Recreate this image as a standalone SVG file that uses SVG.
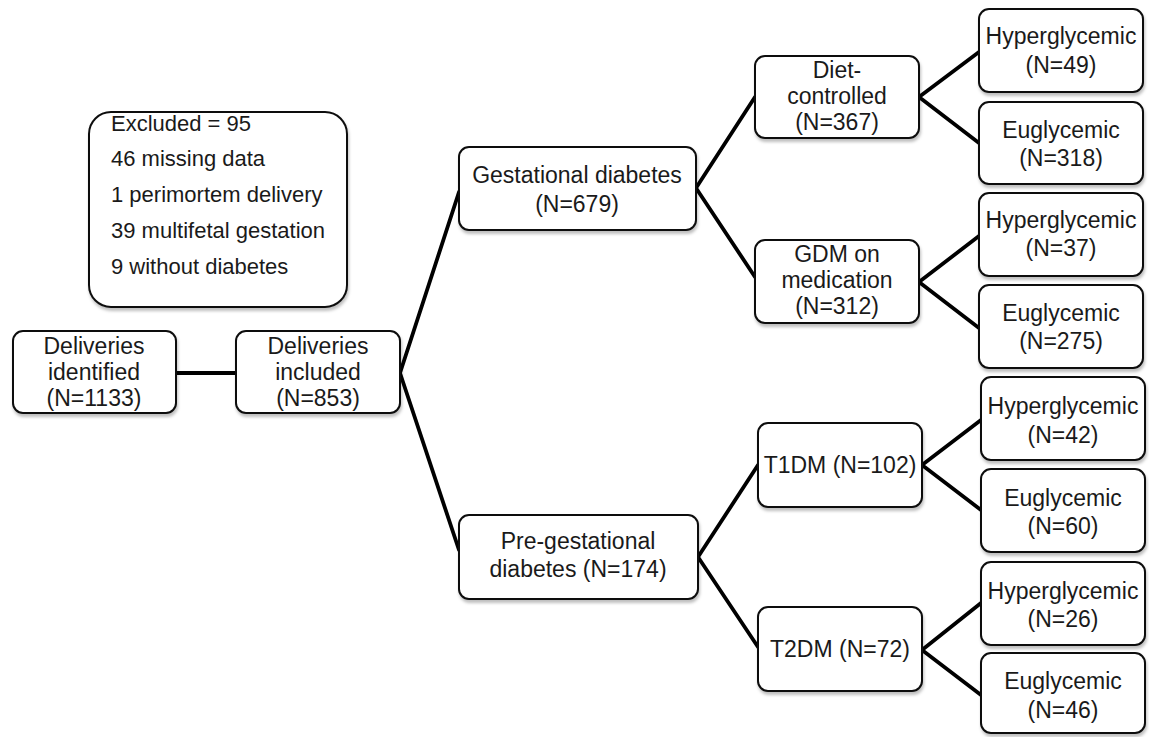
<svg xmlns="http://www.w3.org/2000/svg" width="1149" height="737" viewBox="0 0 1149 737">
<style>
.box{fill:#fff;stroke:#111;stroke-width:2;filter:url(#sh)}
.t{font-family:"Liberation Sans",Arial,sans-serif;font-size:23px;fill:#1a1a1a;text-anchor:middle}
.tl{font-family:"Liberation Sans",Arial,sans-serif;font-size:22px;fill:#1a1a1a}
.c{stroke:#000;stroke-width:3.8;fill:none;stroke-linecap:round;stroke-linejoin:round}
</style>
<defs>
<filter id="sh" x="-10%" y="-10%" width="120%" height="130%">
<feDropShadow dx="1" dy="3" stdDeviation="1.5" flood-color="#000" flood-opacity="0.25"/>
</filter>
</defs>
<rect width="1149" height="737" fill="#fff"/>
<g id="connectors">
<line class="c" x1="176" y1="373" x2="236" y2="373"/>
<polyline class="c" points="459,192 400,373 459,550"/>
<polyline class="c" points="755,97 696,188 755,277"/>
<polyline class="c" points="758,465 698,557 758,647"/>
<polyline class="c" points="979,52 919,97 979,143"/>
<polyline class="c" points="979,236 919,282 979,328"/>
<polyline class="c" points="981,420 922,465 981,510"/>
<polyline class="c" points="981,603 922,650 981,695"/>
</g>
<g id="excluded">
<rect class="box" x="89" y="112" width="258" height="195" rx="22"/>
<text class="tl" x="111" y="131">Excluded = 95</text>
<text class="tl" x="111" y="166">46 missing  data</text>
<text class="tl" x="111" y="202">1 perimortem delivery</text>
<text class="tl" x="111" y="238">39 multifetal gestation</text>
<text class="tl" x="111" y="274">9 without diabetes</text>
</g>
<g id="identified">
<rect class="box" x="13" y="331" width="163" height="82" rx="10"/>
<text class="t" x="94" y="354">Deliveries</text>
<text class="t" x="94" y="380">identified</text>
<text class="t" x="94" y="406">(N=1133)</text>
</g>
<g id="included">
<rect class="box" x="236" y="331" width="164" height="82" rx="10"/>
<text class="t" x="318" y="354">Deliveries</text>
<text class="t" x="318" y="380">included</text>
<text class="t" x="318" y="406">(N=853)</text>
</g>
<g id="gestational">
<rect class="box" x="459" y="147" width="237" height="83" rx="10"/>
<text class="t" x="577" y="183">Gestational diabetes</text>
<text class="t" x="577" y="212">(N=679)</text>
</g>
<g id="pregestational">
<rect class="box" x="459" y="515" width="239" height="84" rx="10"/>
<text class="t" x="578" y="549">Pre-gestational</text>
<text class="t" x="578" y="577">diabetes (N=174)</text>
</g>
<g id="diet">
<rect class="box" x="755" y="56" width="164" height="82" rx="10"/>
<text class="t" x="837" y="78">Diet-</text>
<text class="t" x="837" y="104">controlled</text>
<text class="t" x="837" y="130">(N=367)</text>
</g>
<g id="gdmmed">
<rect class="box" x="755" y="240" width="164" height="83" rx="10"/>
<text class="t" x="837" y="262">GDM on</text>
<text class="t" x="837" y="288">medication</text>
<text class="t" x="837" y="314">(N=312)</text>
</g>
<g id="t1dm">
<rect class="box" x="758" y="423" width="164" height="84" rx="10"/>
<text class="t" x="840" y="473">T1DM (N=102)</text>
</g>
<g id="t2dm">
<rect class="box" x="758" y="607" width="164" height="84" rx="10"/>
<text class="t" x="840" y="657">T2DM (N=72)</text>
</g>
<g id="hyper49">
<rect class="box" x="979" y="9" width="164" height="83" rx="10"/>
<text class="t" x="1061" y="44">Hyperglycemic</text>
<text class="t" x="1061" y="73">(N=49)</text>
</g>
<g id="eu318">
<rect class="box" x="979" y="102" width="164" height="82" rx="10"/>
<text class="t" x="1061" y="138">Euglycemic</text>
<text class="t" x="1061" y="166">(N=318)</text>
</g>
<g id="hyper37">
<rect class="box" x="979" y="193" width="164" height="83" rx="10"/>
<text class="t" x="1061" y="228">Hyperglycemic</text>
<text class="t" x="1061" y="256">(N=37)</text>
</g>
<g id="eu275">
<rect class="box" x="979" y="285" width="164" height="83" rx="10"/>
<text class="t" x="1061" y="321">Euglycemic</text>
<text class="t" x="1061" y="349">(N=275)</text>
</g>
<g id="hyper42">
<rect class="box" x="981" y="377" width="164" height="83" rx="10"/>
<text class="t" x="1063" y="414">Hyperglycemic</text>
<text class="t" x="1063" y="443">(N=42)</text>
</g>
<g id="eu60">
<rect class="box" x="981" y="469" width="164" height="83" rx="10"/>
<text class="t" x="1063" y="506">Euglycemic</text>
<text class="t" x="1063" y="534">(N=60)</text>
</g>
<g id="hyper26">
<rect class="box" x="981" y="562" width="164" height="83" rx="10"/>
<text class="t" x="1063" y="599">Hyperglycemic</text>
<text class="t" x="1063" y="627">(N=26)</text>
</g>
<g id="eu46">
<rect class="box" x="981" y="653" width="164" height="80" rx="10"/>
<text class="t" x="1063" y="689">Euglycemic</text>
<text class="t" x="1063" y="718">(N=46)</text>
</g>
</svg>
